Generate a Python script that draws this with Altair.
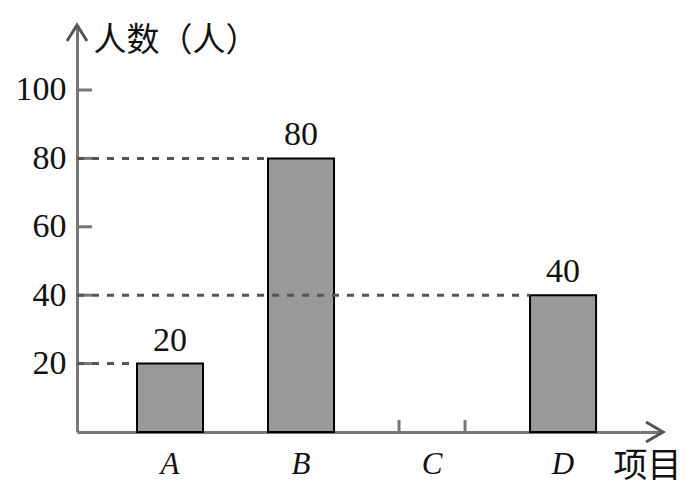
import altair as alt
import pandas as pd

categories = ["A", "B", "C", "D"]
values = [20, 80, None, 40]
y_ticks = [20, 40, 60, 80, 100]
y_title = "人数（人）"
x_title = "项目"

# layout helpers (units of the x scale: one category step = 1)
offset = 0.71
half_bar = 0.252
x_max = 4.473
y_max = 119

rows = []
for i, (c, v) in enumerate(zip(categories, values)):
    rows.append({"cat": c, "value": v, "center": i + offset,
                 "left": i + offset - half_bar, "right": i + offset + half_bar,
                 "zero": 0, "axis0": 0})
df = pd.DataFrame(rows)
present = df[df["value"].notna()].copy()
missing = df[df["value"].isna()].copy()

xs = alt.Scale(domain=[0, x_max], nice=False, zero=False)
ys = alt.Scale(domain=[0, y_max], nice=False, zero=False)

axis_color = "#777777"

x_axis = alt.Axis(domain=True, domainColor=axis_color, domainWidth=3, ticks=False,
                  labels=False, grid=False, title=x_title, titleX=536, titleY=34,
                  titleAlign="left", titleBaseline="middle", titleFontSize=34,
                  titleFont="Noto Sans CJK SC", titleFontWeight="normal", titleColor="#111111")
y_axis = alt.Axis(domain=True, domainColor=axis_color, domainWidth=3, ticks=False,
                  values=y_ticks, labelPadding=11, labelFontSize=34, labelFont="Liberation Serif",
                  labelColor="#111111", grid=False, title=y_title, titleAngle=0, titleX=16, titleY=15,
                  titleAlign="left", titleBaseline="middle", titleFontSize=33,
                  titleFont="Noto Sans CJK SC", titleFontWeight="normal", titleColor="#111111")

base_present = alt.Chart(present)

bars = base_present.mark_bar(color="#999999", stroke="#000000", strokeWidth=2).encode(
    x=alt.X("left:Q", scale=xs, axis=x_axis),
    x2="right:Q",
    y=alt.Y("value:Q", scale=ys, axis=y_axis),
    y2="zero:Q",
)

dashes = base_present.mark_rule(color="#555555", strokeWidth=3, strokeDash=[7, 8]).encode(
    x=alt.X("axis0:Q", scale=xs),
    x2="left:Q",
    y=alt.Y("value:Q", scale=ys),
)

value_labels = base_present.mark_text(fontSize=34, font="Liberation Serif", dy=-23,
                                      baseline="middle", color="#111111").encode(
    x=alt.X("center:Q", scale=xs),
    y=alt.Y("value:Q", scale=ys),
    text="value:Q",
)

cat_labels = alt.Chart(df).mark_text(fontSize=31, font="Liberation Serif", fontStyle="italic",
                                     dy=33, baseline="middle", color="#111111").encode(
    x=alt.X("center:Q", scale=xs),
    y=alt.Y("zero:Q", scale=ys),
    text="cat:N",
)

# small tick marks for the empty category
miss_left = alt.Chart(missing).mark_rule(color=axis_color, strokeWidth=3).encode(
    x=alt.X("left:Q", scale=xs),
    y=alt.Y("zero:Q", scale=ys),
    y2=alt.Y2(datum=3.5),
)
miss_right = alt.Chart(missing).mark_rule(color=axis_color, strokeWidth=3).encode(
    x=alt.X("right:Q", scale=xs),
    y=alt.Y("zero:Q", scale=ys),
    y2=alt.Y2(datum=3.5),
)

# y-axis inward ticks
tick_df = pd.DataFrame({"v": y_ticks, "a": 0, "b": 0.115})
yticks = alt.Chart(tick_df).mark_rule(color=axis_color, strokeWidth=3).encode(
    x=alt.X("a:Q", scale=xs),
    x2="b:Q",
    y=alt.Y("v:Q", scale=ys),
)

# arrowheads
arrow_df = pd.DataFrame({"x": [x_max], "y": [0]})
arrow_x = alt.Chart(arrow_df).mark_point(shape="M-1.7,-1L0,0L-1.7,1", size=400, filled=False,
                                         color="#555555", strokeWidth=3, opacity=1).encode(
    x=alt.X("x:Q", scale=xs), y=alt.Y("y:Q", scale=ys))
arrow_df2 = pd.DataFrame({"x": [0], "y": [y_max]})
arrow_y = alt.Chart(arrow_df2).mark_point(shape="M-1,1.6L0,0L1,1.6", size=400, filled=False,
                                          color="#555555", strokeWidth=3, opacity=1).encode(
    x=alt.X("x:Q", scale=xs), y=alt.Y("y:Q", scale=ys))

chart = alt.layer(bars, miss_left, miss_right, yticks, dashes, value_labels, cat_labels,
                  arrow_x, arrow_y).properties(
    width=586, height=407,
    autosize=alt.AutoSizeParams(type="none"),
    padding={"left": 77, "top": 25, "right": 28, "bottom": 59},
    background="white",
).configure_view(stroke=None)

chart.save("out.html", embed_options={"renderer": "svg", "actions": False})
